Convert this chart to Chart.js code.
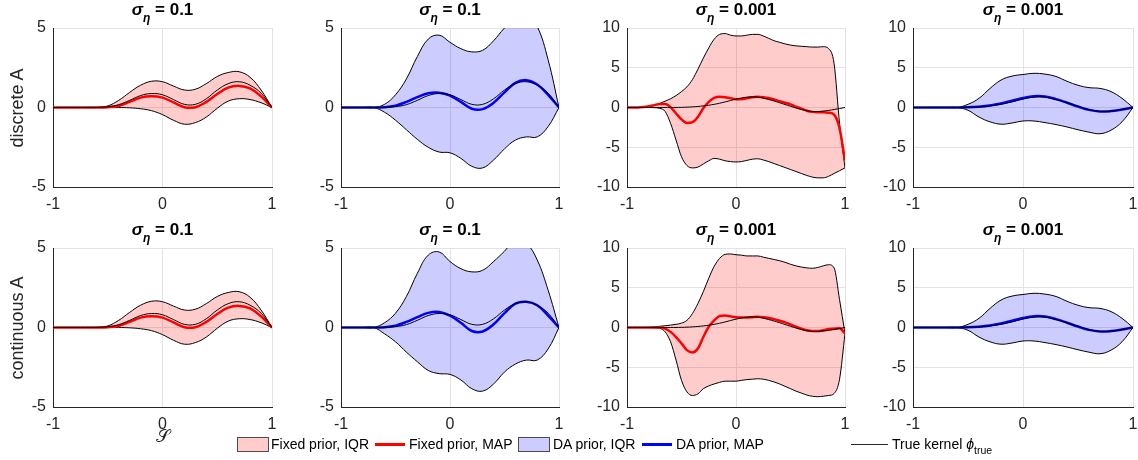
<!DOCTYPE html>
<html>
<head>
<meta charset="utf-8">
<script src="https://cdn.jsdelivr.net/npm/chart.js@4.4.0/dist/chart.umd.min.js"></script>
<style>
  body { margin: 0; background: #fff; font-family: "Liberation Sans", Arial, sans-serif; color: #262626; }
  #page { position: relative; width: 1138px; height: 460px; overflow: hidden; }
  .panel { position: absolute; }
  .title { position: absolute; text-align: center; font-size: 17px; font-weight: bold; line-height: 20px; color: #000; white-space: nowrap; }
  .title sub { font-size: 12px; vertical-align: -7px; line-height: 0; }
  .ylabel { position: absolute; font-size: 18px; white-space: nowrap; transform: translate(-50%, -50%) rotate(-90deg); }
  .xlabel { position: absolute; font-size: 18px; font-family: "DejaVu Serif", "DejaVu Sans", serif; transform: translate(-50%, -50%); }
  .lg-text { position: absolute; top: 436px; font-size: 14px; line-height: 16px; white-space: nowrap; color: #000; }
  .lg-text sub { font-size: 10.5px; vertical-align: -5px; line-height: 0; }
  .lg-box { position: absolute; top: 437px; width: 30px; height: 13px; border: 1px solid #4d4d4d; }
  .lg-line { position: absolute; }
</style>
</head>
<body>
<div id="page"></div>
<script>
// abscissa grids
const xCoarse = [-1, -0.9, -0.8, -0.7, -0.6, -0.5, -0.4, -0.3, -0.2, -0.1, 0, 0.1, 0.2, 0.3, 0.4, 0.5, 0.6, 0.7, 0.8, 0.9, 1];
const xFine = [-1, -0.95, -0.9, -0.85, -0.8, -0.75, -0.7, -0.65, -0.6, -0.55, -0.5, -0.45, -0.4, -0.35, -0.3, -0.25, -0.2, -0.15, -0.1, -0.05,
  0, 0.05, 0.1, 0.15, 0.2, 0.25, 0.3, 0.35, 0.4, 0.45, 0.5, 0.55, 0.6, 0.65, 0.7, 0.75, 0.8, 0.85, 0.9, 0.95, 1];

// true kernels
const trueA = [0, 0, 0, 0, 0.01, 0.05, 0.18, 0.45, 0.75, 0.88, 0.8, 0.5, 0.2, 0.2, 0.55, 1.1, 1.5, 1.62, 1.4, 0.9, 0];
const trueB = [0, 0, 0, 0, 0, 0.02, 0.08, 0.2, 0.4, 0.7, 1.05, 1.3, 1.3, 1.0, 0.6, 0.15, -0.25, -0.5, -0.45, -0.25, 0];

// sigma = 0.1, fixed prior (both rows)
const fixedUpperA = [0, 0, 0, 0, 0, 0.1, 0.45, 0.95, 1.4, 1.65, 1.62, 1.35, 1.1, 1.15, 1.5, 1.95, 2.2, 2.25, 1.9, 1.1, 0];
const fixedLowerA = [0, 0, 0, 0, 0, 0, 0, -0.02, -0.08, -0.2, -0.45, -0.8, -1.05, -0.95, -0.6, -0.05, 0.4, 0.55, 0.5, 0.3, 0];
const fixedMapA = [0, 0, 0, 0, 0, 0.02, 0.1, 0.35, 0.62, 0.71, 0.62, 0.32, 0.02, 0.02, 0.35, 0.85, 1.25, 1.36, 1.2, 0.7, 0];

// sigma = 0.1, DA prior
const daUpperTopA = [0, 0, 0, 0, 0.2, 0.8, 1.8, 3.2, 4.3, 4.55, 4.1, 3.7, 3.5, 3.6, 4.2, 5.0, 5.6, 5.9, 5.1, 3.0, 0];
const daLowerTopA = [0, 0, 0, 0, -0.3, -0.8, -1.4, -2.0, -2.5, -2.8, -2.85, -3.2, -3.7, -3.8, -3.3, -2.6, -2.05, -1.85, -1.85, -1.2, 0];
const daMapTopA = [0, 0, 0, 0, 0.02, 0.12, 0.35, 0.65, 0.9, 0.93, 0.75, 0.35, -0.08, -0.1, 0.3, 0.95, 1.55, 1.72, 1.45, 0.8, 0];
const daUpperBotA = [0, 0, 0, 0, 0.3, 0.9, 1.95, 3.4, 4.55, 4.75, 4.15, 3.7, 3.5, 3.6, 4.15, 4.8, 5.5, 5.3, 4.25, 2.35, 0];
const daLowerBotA = [0, 0, 0, 0, -0.4, -0.9, -1.55, -2.15, -2.7, -2.9, -2.95, -3.3, -3.85, -4.0, -3.55, -2.8, -2.3, -2.05, -2.05, -1.35, 0];
const daMapBotA = [0, 0, 0, 0, 0.02, 0.12, 0.35, 0.65, 0.92, 0.98, 0.75, 0.3, -0.22, -0.25, 0.2, 0.9, 1.5, 1.62, 1.4, 0.75, 0];

// sigma = 0.001, fixed prior
const fixedUpperTopB = [0, 0, 0, 0.02, 0.08, 0.25, 0.5, 0.8, 1.1, 1.5, 2.0, 2.6, 3.5, 4.8, 6.2, 7.5, 8.6, 9.2, 9.3, 9.1,
  9.0, 9.0, 9.1, 9.2, 9.2, 9.0, 8.7, 8.4, 8.2, 8.0, 7.85, 7.75, 7.7, 7.65, 7.6, 7.6, 7.65, 7.4, 5.5, -2.0, -7.6];
const fixedLowerTopB = [0, 0, 0, 0, 0, -0.02, -0.1, -0.5, -2.0, -4.1, -6.2, -7.3, -7.6, -7.5, -7.1, -6.7, -6.4, -6.5, -6.7, -6.8,
  -6.85, -6.8, -6.65, -6.5, -6.45, -6.6, -6.8, -7.05, -7.3, -7.55, -7.8, -8.05, -8.3, -8.55, -8.75, -8.85, -8.85, -8.65, -8.3, -7.95, -7.6];
const fixedMapTopB = [0, 0, 0, 0.05, 0.15, 0.3, 0.45, 0.45, 0.05, -0.75, -1.5, -1.95, -1.85, -1.2, -0.1, 0.7, 1.2, 1.35, 1.3, 1.15,
  1.05, 1.05, 1.15, 1.3, 1.35, 1.3, 1.2, 1.0, 0.8, 0.6, 0.4, 0.1, -0.15, -0.4, -0.55, -0.6, -0.6, -0.65, -0.9, -2.6, -6.65];
const fixedUpperBotB = [0, 0, 0, 0, 0.02, 0.08, 0.15, 0.22, 0.3, 0.4, 0.55, 0.9, 1.75, 3.0, 4.5, 6.2, 7.7, 8.7, 9.2, 9.25,
  9.15, 9.1, 9.0, 9.0, 9.0, 8.85, 8.7, 8.55, 8.4, 8.2, 7.95, 7.75, 7.6, 7.5, 7.45, 7.55, 7.75, 7.9, 7.5, 3.5, -0.75];
const fixedLowerBotB = [0, 0, 0, 0, 0, -0.02, -0.1, -0.55, -1.8, -4.1, -6.65, -8.1, -8.55, -8.35, -7.7, -7.35, -7.1, -6.9, -6.75, -6.75,
  -6.75, -6.65, -6.55, -6.5, -6.45, -6.5, -6.65, -6.85, -7.1, -7.4, -7.7, -8.0, -8.25, -8.5, -8.65, -8.7, -8.65, -8.55, -8.3, -6.5, -0.75];
const fixedMapBotB = [0, 0, 0, 0, 0, 0, 0.02, -0.15, -0.55, -1.2, -2.0, -2.85, -3.15, -2.65, -1.2, 0.1, 0.9, 1.45, 1.5, 1.4,
  1.3, 1.25, 1.25, 1.3, 1.35, 1.3, 1.2, 1.05, 0.85, 0.65, 0.4, 0.1, -0.15, -0.35, -0.45, -0.45, -0.35, -0.2, -0.15, -0.1, -0.75];

// sigma = 0.001, DA prior (both rows)
const daUpperB = [0, 0, 0, 0, 0, 0.4, 1.15, 2.4, 3.45, 3.95, 4.15, 4.3, 4.2, 3.9, 3.3, 2.8, 2.5, 2.4, 2.0, 1.15, 0];
const daLowerB = [0, 0, 0, 0, 0, -0.35, -1.2, -1.8, -2.1, -1.95, -1.7, -1.7, -1.9, -2.15, -2.45, -2.8, -3.1, -3.3, -2.85, -1.8, 0];
const daMapB = [0, 0, 0, 0, 0, 0.02, 0.1, 0.25, 0.5, 0.85, 1.2, 1.42, 1.38, 1.05, 0.6, 0.12, -0.3, -0.5, -0.45, -0.25, 0];

const rowLabels = ['discrete A', 'continuous A'];
const sigmaLabels = ['0.1', '0.1', '0.001', '0.001'];
const yLimits = [5, 5, 10, 10];

const panels = [
  { row: 0, col: 0, xs: xCoarse, upper: fixedUpperA, lower: fixedLowerA, map: fixedMapA, truth: trueA, prior: 'fixed' },
  { row: 0, col: 1, xs: xCoarse, upper: daUpperTopA, lower: daLowerTopA, map: daMapTopA, truth: trueA, prior: 'da' },
  { row: 0, col: 2, xs: xFine, upper: fixedUpperTopB, lower: fixedLowerTopB, map: fixedMapTopB, truth: trueB, prior: 'fixed' },
  { row: 0, col: 3, xs: xCoarse, upper: daUpperB, lower: daLowerB, map: daMapB, truth: trueB, prior: 'da' },
  { row: 1, col: 0, xs: xCoarse, upper: fixedUpperA, lower: fixedLowerA, map: fixedMapA, truth: trueA, prior: 'fixed' },
  { row: 1, col: 1, xs: xCoarse, upper: daUpperBotA, lower: daLowerBotA, map: daMapBotA, truth: trueA, prior: 'da' },
  { row: 1, col: 2, xs: xFine, upper: fixedUpperBotB, lower: fixedLowerBotB, map: fixedMapBotB, truth: trueB, prior: 'fixed' },
  { row: 1, col: 3, xs: xCoarse, upper: daUpperB, lower: daLowerB, map: daMapB, truth: trueB, prior: 'da' }
];

const priorStyle = {
  fixed: { fill: 'rgba(255, 0, 0, 0.2)', line: '#ff0000' },
  da: { fill: 'rgba(0, 0, 255, 0.2)', line: '#0000ff' }
};

// layout of the plot areas
const plotLeft = [53, 341, 627, 913];
const plotRight = [272, 559, 845, 1133];
const plotTop = [28, 248];
const plotH = 159;
const axisW = 50, axisH = 30, padTop = 8, padRight = 5;

const page = document.getElementById('page');

function pts(xs, ys) {
  return xs.map((x, i) => ({ x: x, y: ys[i] }));
}

// smooth bezier for the coarse grid, monotone for the dense one (steep edges)
function curve(xs) {
  return xs === xFine
    ? { cubicInterpolationMode: 'monotone' }
    : { tension: 0.4 };
}

function addDiv(cls, html, style) {
  const d = document.createElement('div');
  d.className = cls;
  d.innerHTML = html;
  Object.assign(d.style, style);
  page.appendChild(d);
  return d;
}

panels.forEach(p => {
  const plotW = plotRight[p.col] - plotLeft[p.col];
  const w = axisW + plotW + padRight;
  const h = padTop + plotH + axisH;
  const wrap = document.createElement('div');
  wrap.className = 'panel';
  wrap.style.left = (plotLeft[p.col] - axisW) + 'px';
  wrap.style.top = (plotTop[p.row] - padTop) + 'px';
  wrap.style.width = w + 'px';
  wrap.style.height = h + 'px';
  const canvas = document.createElement('canvas');
  canvas.width = w;
  canvas.height = h;
  wrap.appendChild(canvas);
  page.appendChild(wrap);

  const style = priorStyle[p.prior];
  const lim = yLimits[p.col];
  const base = { pointRadius: 0, pointHoverRadius: 0 };

  new Chart(canvas.getContext('2d'), {
    type: 'line',
    data: {
      datasets: [
        { ...base, ...curve(xCoarse), data: pts(xCoarse, p.truth), borderColor: '#000000', borderWidth: 1, fill: false },
        { ...base, ...curve(p.xs), data: pts(p.xs, p.map), borderColor: style.line, borderWidth: 2.5, fill: false },
        { ...base, ...curve(p.xs), data: pts(p.xs, p.upper), borderColor: '#000000', borderWidth: 1, fill: '+1', backgroundColor: style.fill },
        { ...base, ...curve(p.xs), data: pts(p.xs, p.lower), borderColor: '#000000', borderWidth: 1, fill: false }
      ]
    },
    options: {
      responsive: false,
      animation: false,
      devicePixelRatio: 1,
      layout: { padding: { left: 0, right: padRight, top: padTop, bottom: 0 } },
      plugins: {
        legend: { display: false },
        tooltip: { enabled: false },
        filler: { drawTime: 'beforeDatasetsDraw', propagate: false }
      },
      scales: {
        x: {
          type: 'linear',
          min: -1,
          max: 1,
          grid: { color: '#e3e3e3', drawTicks: false },
          border: { color: '#262626', width: 1 },
          ticks: { stepSize: 1, padding: 8, color: '#262626', maxRotation: 0,
            font: { family: 'Liberation Sans', size: 16 } },
          afterFit: s => { s.height = axisH; s.paddingLeft = 0; s.paddingRight = 0; }
        },
        y: {
          min: -lim,
          max: lim,
          grid: { color: '#e3e3e3', drawTicks: false },
          border: { color: '#262626', width: 1 },
          ticks: { stepSize: 5, padding: 7, color: '#262626',
            font: { family: 'Liberation Sans', size: 16 } },
          afterFit: s => { s.width = axisW; s.paddingTop = 0; s.paddingBottom = 0; }
        }
      }
    }
  });

  addDiv('title', '<i>σ</i><sub><i>η</i></sub> = ' + sigmaLabels[p.col], {
    left: plotLeft[p.col] + 'px', width: plotW + 'px', top: (plotTop[p.row] - 28) + 'px'
  });
});

// row labels
rowLabels.forEach((t, r) => {
  addDiv('ylabel', t, { left: '17px', top: (plotTop[r] + plotH / 2) + 'px' });
});

// x label under the first column
addDiv('xlabel', '𝒮', { left: ((plotLeft[0] + plotRight[0]) / 2) + 'px', top: '436px' });

// legend
addDiv('lg-box', '', { left: '237px', background: 'rgba(255, 0, 0, 0.2)' });
addDiv('lg-text', 'Fixed prior, IQR', { left: '271px' });
addDiv('lg-line', '', { left: '375px', top: '443px', width: '30px', height: '2.5px', background: '#ff0000' });
addDiv('lg-text', 'Fixed prior, MAP', { left: '409px' });
addDiv('lg-box', '', { left: '518px', background: 'rgba(0, 0, 255, 0.2)' });
addDiv('lg-text', 'DA prior, IQR', { left: '553px' });
addDiv('lg-line', '', { left: '642px', top: '443px', width: '30px', height: '2.5px', background: '#0000ff' });
addDiv('lg-text', 'DA prior, MAP', { left: '676px' });
addDiv('lg-line', '', { left: '851px', top: '444px', width: '37px', height: '1px', background: '#262626' });
addDiv('lg-text', 'True kernel <i>ϕ</i><sub>true</sub>', { left: '892px' });
</script>
</body>
</html>
